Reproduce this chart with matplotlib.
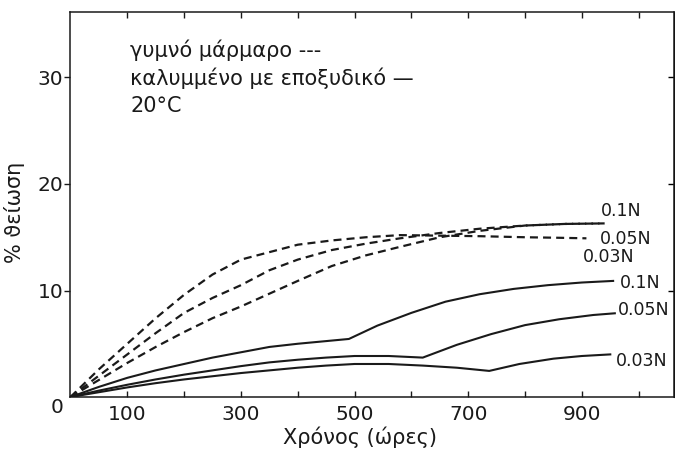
import matplotlib.pyplot as plt

# data (hours, % sulfation)
# bare marble, dashed
bare_top_x = [0, 50, 100, 150, 200, 250, 300, 350, 400, 460, 520, 580, 650, 720, 800, 860, 908]
bare_top_y = [0, 2.6, 5.0, 7.4, 9.6, 11.5, 12.9, 13.6, 14.3, 14.7, 15.0, 15.2, 15.15, 15.1, 15.0, 14.95, 14.9]
bare_mid_x = [0, 50, 100, 150, 200, 250, 300, 350, 400, 460, 520, 580, 650, 720, 800, 870, 940]
bare_mid_y = [0, 2.0, 4.0, 6.0, 7.9, 9.3, 10.5, 11.9, 12.9, 13.8, 14.4, 14.9, 15.4, 15.8, 16.1, 16.25, 16.3]
bare_low_x = [0, 50, 100, 150, 200, 250, 300, 350, 400, 460, 520, 580, 650, 720, 760, 800, 870, 940]
bare_low_y = [0, 1.6, 3.2, 4.7, 6.1, 7.4, 8.5, 9.7, 10.9, 12.3, 13.3, 14.1, 15.0, 15.6, 15.85, 16.1, 16.25, 16.3]

# epoxy coated marble, solid
coat_01_x = [0, 50, 100, 150, 200, 250, 300, 350, 400, 450, 490, 540, 600, 660, 720, 780, 840, 900, 955]
coat_01_y = [0, 0.95, 1.8, 2.5, 3.1, 3.7, 4.2, 4.7, 5.0, 5.25, 5.45, 6.7, 7.9, 8.95, 9.65, 10.15, 10.5, 10.75, 10.9]
coat_005_x = [0, 50, 100, 150, 200, 250, 300, 350, 400, 450, 500, 560, 620, 680, 740, 800, 860, 920, 958]
coat_005_y = [0, 0.6, 1.15, 1.65, 2.1, 2.5, 2.9, 3.25, 3.5, 3.7, 3.85, 3.85, 3.7, 4.9, 5.9, 6.75, 7.3, 7.7, 7.86]
coat_003_x = [0, 50, 100, 150, 200, 250, 300, 350, 400, 450, 500, 560, 620, 680, 737, 790, 850, 900, 950]
coat_003_y = [0, 0.45, 0.9, 1.3, 1.65, 1.95, 2.25, 2.5, 2.75, 2.95, 3.1, 3.1, 2.95, 2.75, 2.45, 3.1, 3.6, 3.85, 4.0]

xtick_pos = [100, 200, 300, 400, 500, 600, 700, 800, 900, 1000]
xtick_lab = ['100', '', '300', '', '500', '', '700', '', '900', '']
ytick_pos = [10, 20, 30]

ink = '#1a1a1a'
plt.rcParams['font.family'] = ['DejaVu Sans']

fig = plt.figure(figsize=(6.75, 4.49), dpi=100)
ax = fig.add_axes([0.1044, 0.1158, 0.894, 0.8575])

dash = (0, (3.6, 2.3))
for xs, ys in [(bare_top_x, bare_top_y), (bare_mid_x, bare_mid_y), (bare_low_x, bare_low_y)]:
    ax.plot(xs, ys, color=ink, lw=1.6, linestyle=dash)
for xs, ys in [(coat_01_x, coat_01_y), (coat_005_x, coat_005_y), (coat_003_x, coat_003_y)]:
    ax.plot(xs, ys, color=ink, lw=1.5)

ax.set_xlim(0, 1062)
ax.set_ylim(0, 36.15)

ax.set_xticks(xtick_pos)
ax.set_xticklabels(xtick_lab)
ax.set_yticks(ytick_pos)
ax.tick_params(axis='x', direction='in', top=True, length=4, width=1, pad=6,
               labelsize=14.5, colors=ink)
ax.tick_params(axis='y', direction='out', length=4, width=1, pad=1,
               labelsize=14.5, colors=ink)
for sp in ax.spines.values():
    sp.set_linewidth(1.1)
    sp.set_color(ink)

# right-hand ticks point inward
ax2 = ax.secondary_yaxis('right')
ax2.set_yticks(ytick_pos)
ax2.tick_params(direction='in', length=4, width=1, labelright=False)

ax.text(-24, -1.0, '0', fontsize=14.5, color=ink, ha='center', va='center', clip_on=False)

# curve labels
lab_kw = dict(fontsize=12.5, color=ink, va='center', ha='left', clip_on=False)
ax.text(967, 10.7, '0.1N', **lab_kw)
ax.text(963, 8.2, '0.05N', **lab_kw)
ax.text(960, 3.4, '0.03N', **lab_kw)
ax.text(934, 17.5, '0.1N', **lab_kw)
ax.text(932, 14.8, '0.05N', **lab_kw)
ax.text(902, 13.1, '0.03N', **lab_kw)

# legend block
txt_kw = dict(transform=ax.transAxes, fontsize=15, color=ink, ha='left', va='center')
ax.text(0.099, 0.900, 'γυμνό μάρμαρο ---', **txt_kw)
ax.text(0.099, 0.828, 'καλυμμένο με εποξυδικό —', **txt_kw)
ax.text(0.099, 0.757, '20°C', **txt_kw)

ax.text(0.48, -0.104, 'Χρόνος (ώρες)', transform=ax.transAxes, fontsize=15,
        color=ink, ha='center', va='center')
ax.text(-0.092, 0.48, '% ϑείωση', transform=ax.transAxes, fontsize=15,
        color=ink, ha='center', va='center', rotation=90)

fig.savefig('out.png', dpi=100)
